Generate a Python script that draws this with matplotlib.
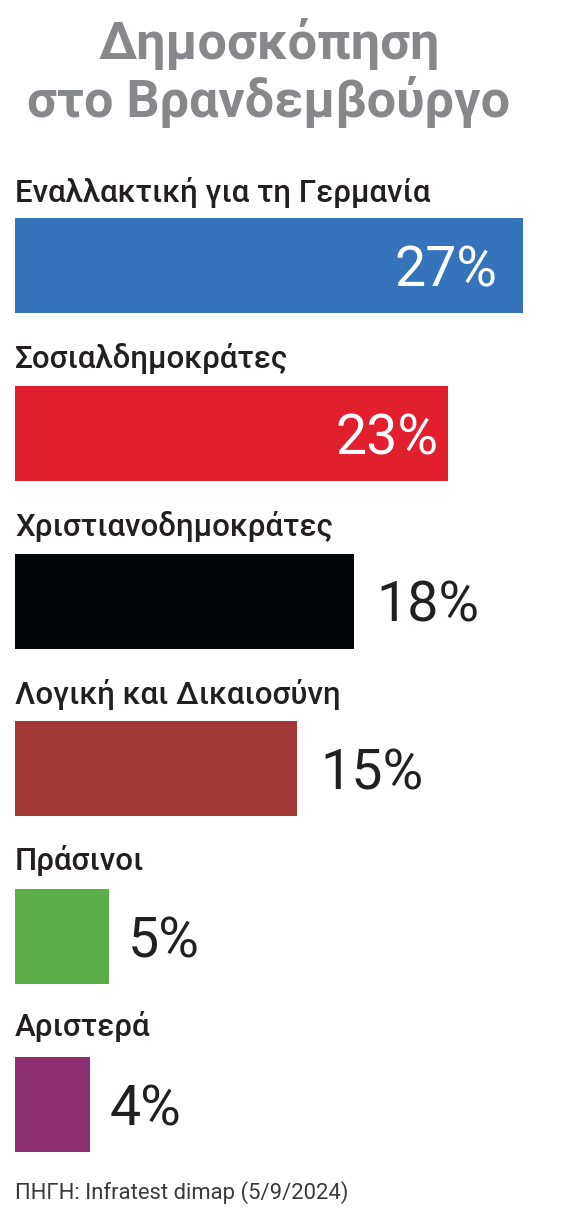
import matplotlib
matplotlib.use('Agg')
import matplotlib.pyplot as plt

title_lines = ['Δημοσκόπηση', 'στο Βρανδεμβούργο']
parties = ['Εναλλακτική για τη Γερμανία', 'Σοσιαλδημοκράτες', 'Χριστιανοδημοκράτες',
           'Λογική και Δικαιοσύνη', 'Πράσινοι', 'Αριστερά']
values = [27, 23, 18, 15, 5, 4]
colors = ['#3574bb', '#e21f2f', '#030608', '#a33836', '#5bae47', '#8e2f72']
source = 'ΠΗΓΗ: Infratest dimap (5/9/2024)'

W, H = 565, 1211
plt.rcParams['font.family'] = ['Roboto', 'DejaVu Sans']

fig = plt.figure(figsize=(W / 100, H / 100), dpi=100)
ax = fig.add_axes([0, 0, 1, 1])
ax.set_xlim(0, W)
ax.set_ylim(H, 0)
ax.axis('off')

# scale: 27% ends at x=523, bars start at x=15
px_per_point = (523 - 15) / 27

ax.text(269, 44, title_lines[0], fontsize=37.5, fontweight='bold', color='#87888c', ha='center', va='center')
ax.text(269, 102, title_lines[1], fontsize=37.5, fontweight='bold', color='#87888c', ha='center', va='center')

tops = [218, 386, 553.5, 721, 889, 1056.5]
name_ys = [192, 359, 527, 694, 861, 1027]
# gap between bar end and its label
label_gaps = [26, 9, 23, 23, 19, 19]
for i, party in enumerate(parties):
    w = values[i] * px_per_point
    ax.barh(tops[i] + 47.5, w, height=95, left=15, color=colors[i], linewidth=0)
    ax.text(15, name_ys[i], party, fontsize=22.5, fontweight='medium', color='#231f20', ha='left', va='center')
    label = f'{values[i]}%'
    if i < 2:
        ax.text(15 + w - label_gaps[i], tops[i] + 53, label, fontsize=40,
                color='white', ha='right', va='center')
    else:
        ax.text(15 + w + label_gaps[i], tops[i] + 53, label, fontsize=40,
                color='#231f20', ha='left', va='center')

ax.text(15, 1193, source, fontsize=15.8, color='#3a3a3c', ha='left', va='center')

fig.savefig('out.png', dpi=100)
